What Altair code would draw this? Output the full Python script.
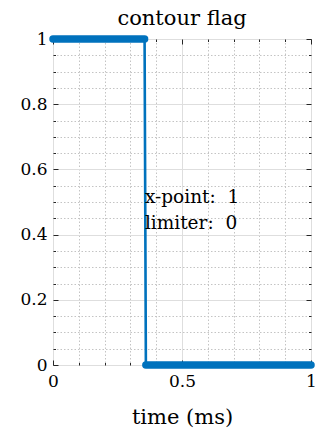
import altair as alt
import pandas as pd

# series
time_ms = [0.0, 0.355, 0.36, 1.0]
flag = [1, 1, 0, 0]
segment = ["high", "high", "low", "low"]

# annotations
note_x = [0.36, 0.36]
note_y = [0.515, 0.436]
note_text = ["x-point:\u00a0 1", "limiter:\u00a0 0"]

# ticks
x_ticks = [0, 0.1, 0.2, 0.3, 0.4, 0.5, 0.6, 0.7, 0.8, 0.9, 1]
y_ticks = [0, 0.05, 0.1, 0.15, 0.2, 0.25, 0.3, 0.35, 0.4, 0.45, 0.5,
           0.55, 0.6, 0.65, 0.7, 0.75, 0.8, 0.85, 0.9, 0.95, 1]

W, H = 258, 326
BLUE = "#0072BD"
AX = "#262626"
FONT = "DejaVu Serif"

df = pd.DataFrame({"t": time_ms, "flag": flag, "seg": segment})
notes = pd.DataFrame({"t": note_x, "flag": note_y, "txt": note_text})

x_major = "abs(datum.value*2 - round(datum.value*2)) < 1e-6"
y_major = "abs(datum.value*5 - round(datum.value*5)) < 1e-6"

xs = alt.Scale(domain=[0, 1], nice=False)
ys = alt.Scale(domain=[0, 1], nice=False)


def grid_axis(orient, values, major, title=""):
    return alt.Axis(
        orient=orient, values=values, title=title, ticks=False, domain=False,
        format="~g", labelExpr=f"({major}) ? datum.label : ''",
        labelFont=FONT, labelFontSize=17, labelColor="#000000",
        labelPadding=8 if orient == "bottom" else 6, labelFlush=False,
        titleFont=FONT, titleFontSize=21, titleFontWeight="normal",
        titleColor="#000000", titlePadding=17,
        grid=True,
        gridColor={"condition": {"test": major, "value": "#dedede"}, "value": "#c4c4c4"},
        gridDash={"condition": {"test": major, "value": []}, "value": [1.5, 2]},
        gridWidth=1,
        labelOverlap=False,
    )


def tick_axis(orient, values, major, offset):
    return alt.Axis(
        orient=orient, values=values, title="", labels=False, domain=False,
        grid=False, ticks=True, offset=offset, tickColor=AX, tickWidth=1,
        tickSize={"condition": {"test": major, "value": 5}, "value": 2.5},
    )


thick = alt.Chart(df).mark_line(
    color=BLUE, strokeWidth=7.5, strokeCap="round", strokeJoin="round"
).encode(
    x=alt.X("t:Q", scale=xs, axis=grid_axis("bottom", x_ticks, x_major, "time (ms)")),
    y=alt.Y("flag:Q", scale=ys, axis=grid_axis("left", y_ticks, y_major)),
    detail="seg:N",
)

thin = alt.Chart(df).mark_line(color=BLUE, strokeWidth=2.6).encode(
    x=alt.X("t:Q", scale=xs, axis=tick_axis("bottom", x_ticks, x_major, -H)),
    y=alt.Y("flag:Q", scale=ys, axis=tick_axis("left", y_ticks, y_major, -W)),
)

text = alt.Chart(notes).mark_text(
    align="left", baseline="middle", font=FONT, fontSize=18.5, color="#000000", dx=-1
).encode(
    x=alt.X("t:Q", scale=xs, axis=tick_axis("top", x_ticks, x_major, -H)),
    y=alt.Y("flag:Q", scale=ys, axis=tick_axis("right", y_ticks, y_major, -W)),
    text="txt:N",
)

chart = alt.layer(thick, thin, text).resolve_axis(
    x="independent", y="independent"
).properties(
    width=W, height=H,
    title=alt.TitleParams("contour flag", font=FONT, fontSize=21, fontWeight="normal",
                          color="#000000", anchor="middle", baseline="alphabetic",
                          offset=12, dy=28),
    autosize=alt.AutoSizeParams(type="none"),
    padding={"left": 53, "top": 39, "right": 17, "bottom": 68},
    background="#ffffff",
).configure_view(stroke=AX, strokeWidth=1)

chart.save("out.html", embed_options={"renderer": "svg", "actions": False})
